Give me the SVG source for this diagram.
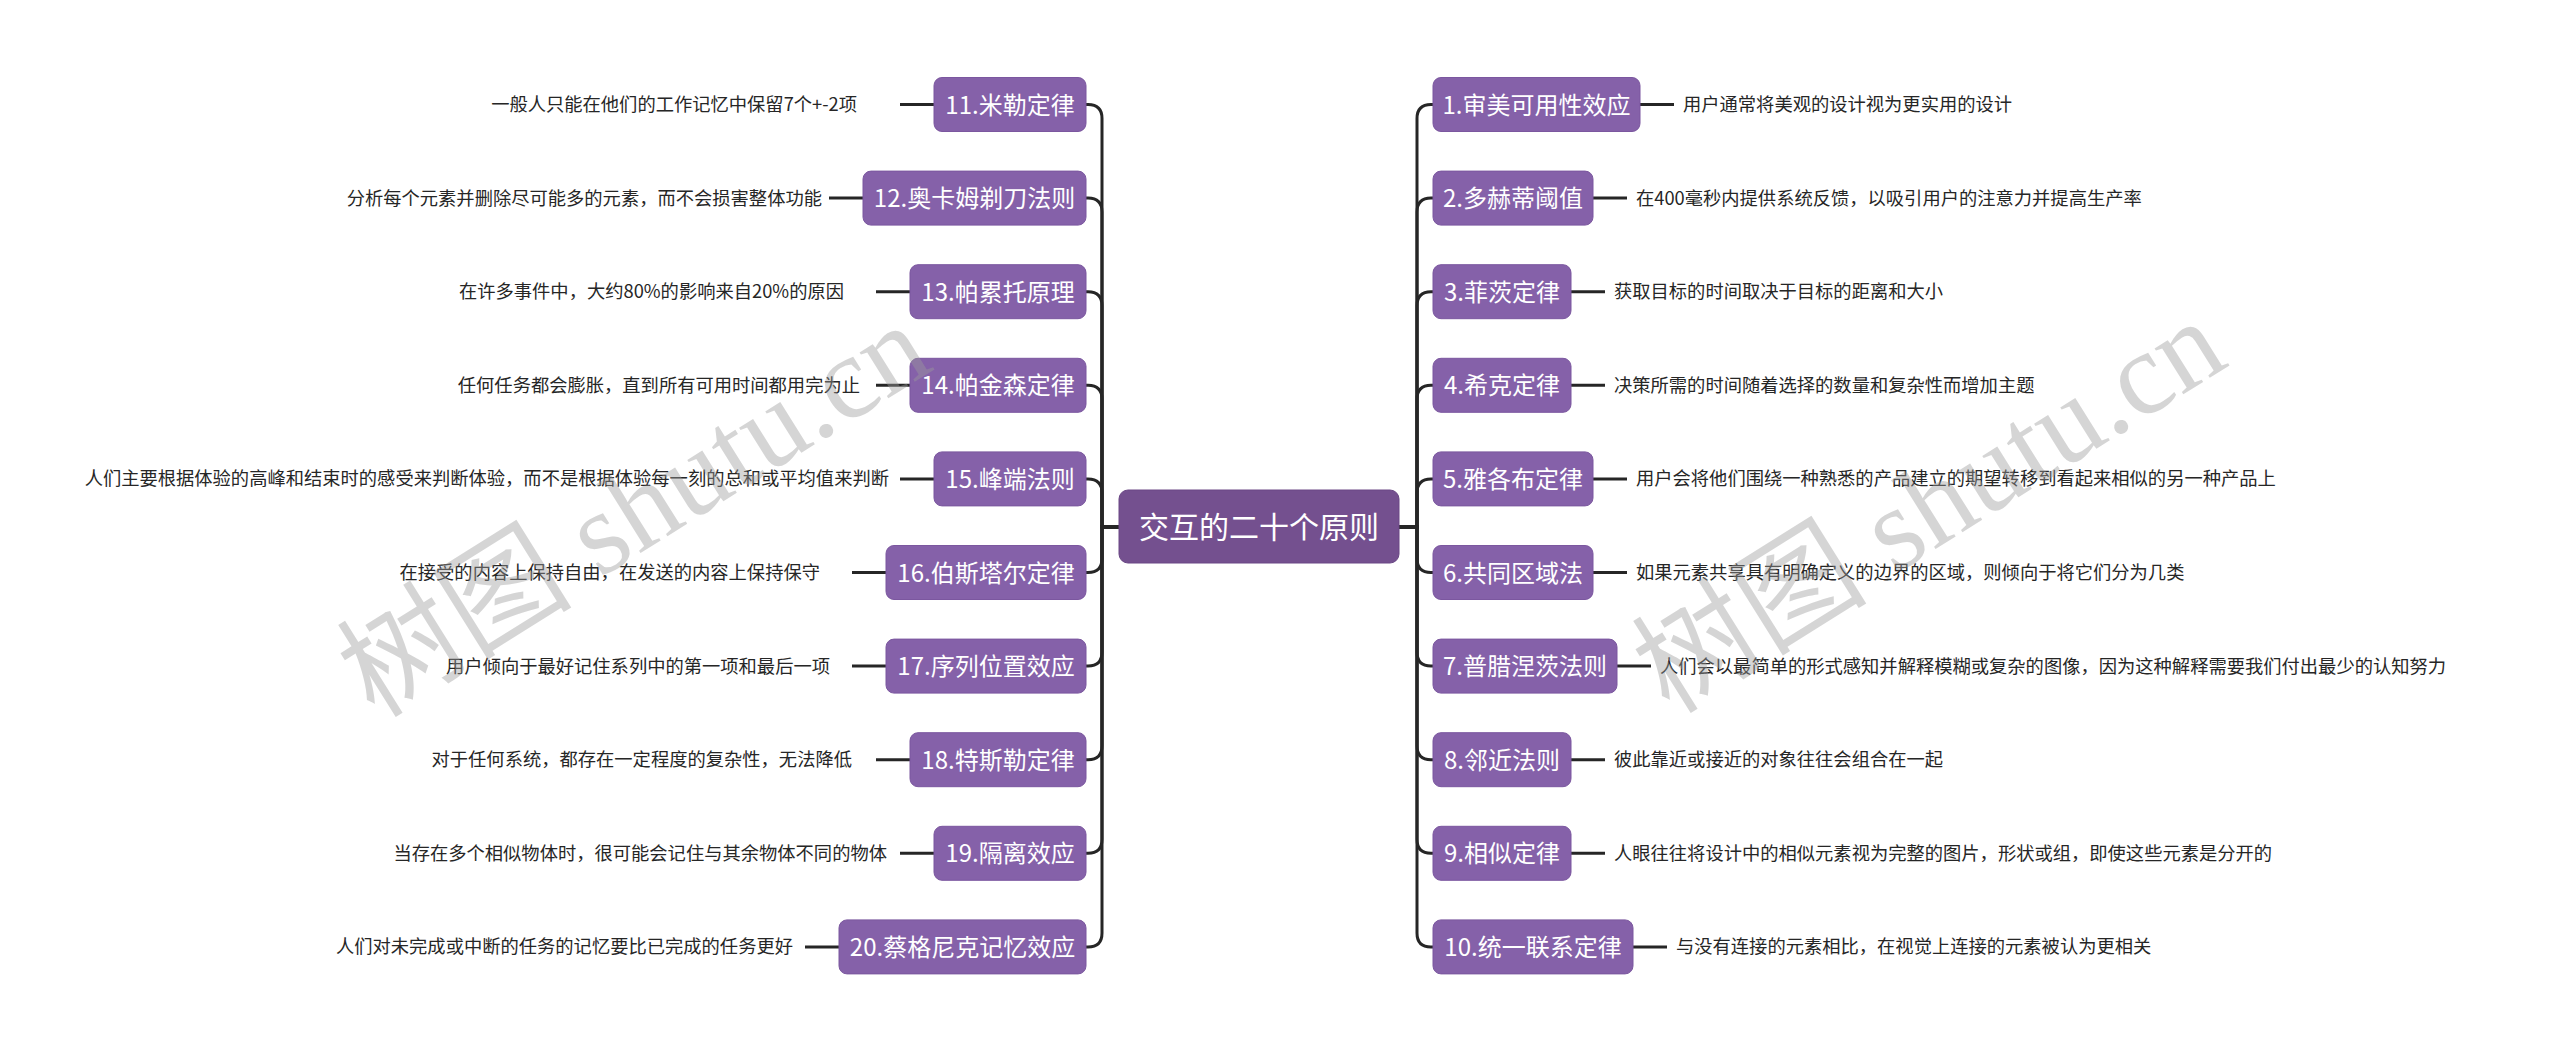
<svg xmlns="http://www.w3.org/2000/svg" width="2560" height="1055" viewBox="0 0 2560 1055">
<style>
.bg{fill:#ffffff}
.n rect{fill:#8561a9;stroke:#7b579f;stroke-width:1}
.root rect{fill:#74508f;stroke:#6a4785;stroke-width:1}
.n text,.root text{fill:#ffffff;font-family:"Noto Sans CJK SC",sans-serif;text-anchor:middle}
.n text{font-size:24px}
.root text{font-size:30px}
.leaf{fill:#262626;font-family:"Noto Sans CJK SC",sans-serif;font-size:18.3px}
.r{text-anchor:start}
.l{text-anchor:end}
#connectors path{fill:none;stroke:#262626;stroke-width:3;stroke-linecap:butt}
.wm{fill:#9a9a9a;fill-opacity:0.42;font-family:"Liberation Serif","Noto Sans CJK SC",serif;font-size:118px;text-anchor:middle}
</style>
<rect class="bg" x="0" y="0" width="2560" height="1055"/>
<g id="connectors">
<path d="M1399,527 H1417 V118.5 Q1417,104.5 1431,104.5 H1433"/>
<path d="M1399,527 H1417 V212.1 Q1417,198.1 1431,198.1 H1433"/>
<path d="M1399,527 H1417 V305.7 Q1417,291.7 1431,291.7 H1433"/>
<path d="M1399,527 H1417 V399.3 Q1417,385.3 1431,385.3 H1433"/>
<path d="M1399,527 H1417 V492.9 Q1417,478.9 1431,478.9 H1433"/>
<path d="M1399,527 H1417 V558.5 Q1417,572.5 1431,572.5 H1433"/>
<path d="M1399,527 H1417 V652.1 Q1417,666.1 1431,666.1 H1433"/>
<path d="M1399,527 H1417 V745.7 Q1417,759.7 1431,759.7 H1433"/>
<path d="M1399,527 H1417 V839.3 Q1417,853.3 1431,853.3 H1433"/>
<path d="M1399,527 H1417 V932.9 Q1417,946.9 1431,946.9 H1433"/>
<path d="M1119,527 H1102 V118.5 Q1102,104.5 1088,104.5 H1086"/>
<path d="M1119,527 H1102 V212.1 Q1102,198.1 1088,198.1 H1086"/>
<path d="M1119,527 H1102 V305.7 Q1102,291.7 1088,291.7 H1086"/>
<path d="M1119,527 H1102 V399.3 Q1102,385.3 1088,385.3 H1086"/>
<path d="M1119,527 H1102 V492.9 Q1102,478.9 1088,478.9 H1086"/>
<path d="M1119,527 H1102 V558.5 Q1102,572.5 1088,572.5 H1086"/>
<path d="M1119,527 H1102 V652.1 Q1102,666.1 1088,666.1 H1086"/>
<path d="M1119,527 H1102 V745.7 Q1102,759.7 1088,759.7 H1086"/>
<path d="M1119,527 H1102 V839.3 Q1102,853.3 1088,853.3 H1086"/>
<path d="M1119,527 H1102 V932.9 Q1102,946.9 1088,946.9 H1086"/>
<path d="M1640,104.5 H1674"/>
<path d="M1593,198.1 H1627"/>
<path d="M1571,291.7 H1605"/>
<path d="M1571,385.3 H1605"/>
<path d="M1593,478.9 H1627"/>
<path d="M1593,572.5 H1627"/>
<path d="M1617,666.1 H1651"/>
<path d="M1571,759.7 H1605"/>
<path d="M1571,853.3 H1605"/>
<path d="M1633,946.9 H1667"/>
<path d="M934,104.5 H900"/>
<path d="M863,198.1 H829"/>
<path d="M910,291.7 H876"/>
<path d="M910,385.3 H876"/>
<path d="M934,478.9 H900"/>
<path d="M886,572.5 H852"/>
<path d="M886,666.1 H852"/>
<path d="M910,759.7 H876"/>
<path d="M934,853.3 H900"/>
<path d="M839,946.9 H805"/>
</g>
<g id="root" class="root"><rect x="1119" y="490" width="280" height="73" rx="9"/><text x="1259" y="538">交互的二十个原则</text></g>
<g id="n1" class="n"><rect x="1433" y="77.5" width="207" height="54" rx="8"/><text x="1536.5" y="113.5">1.审美可用性效应</text></g>
<g id="n2" class="n"><rect x="1433" y="171.1" width="160" height="54" rx="8"/><text x="1513" y="207.1">2.多赫蒂阈值</text></g>
<g id="n3" class="n"><rect x="1433" y="264.7" width="138" height="54" rx="8"/><text x="1502" y="300.7">3.菲茨定律</text></g>
<g id="n4" class="n"><rect x="1433" y="358.3" width="138" height="54" rx="8"/><text x="1502" y="394.3">4.希克定律</text></g>
<g id="n5" class="n"><rect x="1433" y="451.9" width="160" height="54" rx="8"/><text x="1513" y="487.9">5.雅各布定律</text></g>
<g id="n6" class="n"><rect x="1433" y="545.5" width="160" height="54" rx="8"/><text x="1513" y="581.5">6.共同区域法</text></g>
<g id="n7" class="n"><rect x="1433" y="639.1" width="184" height="54" rx="8"/><text x="1525" y="675.1">7.普腊涅茨法则</text></g>
<g id="n8" class="n"><rect x="1433" y="732.7" width="138" height="54" rx="8"/><text x="1502" y="768.7">8.邻近法则</text></g>
<g id="n9" class="n"><rect x="1433" y="826.3" width="138" height="54" rx="8"/><text x="1502" y="862.3">9.相似定律</text></g>
<g id="n10" class="n"><rect x="1433" y="919.9" width="200" height="54" rx="8"/><text x="1533" y="955.9">10.统一联系定律</text></g>
<g id="n11" class="n"><rect x="934" y="77.5" width="152" height="54" rx="8"/><text x="1010" y="113.5">11.米勒定律</text></g>
<g id="n12" class="n"><rect x="863" y="171.1" width="223" height="54" rx="8"/><text x="974.5" y="207.1">12.奥卡姆剃刀法则</text></g>
<g id="n13" class="n"><rect x="910" y="264.7" width="176" height="54" rx="8"/><text x="998" y="300.7">13.帕累托原理</text></g>
<g id="n14" class="n"><rect x="910" y="358.3" width="176" height="54" rx="8"/><text x="998" y="394.3">14.帕金森定律</text></g>
<g id="n15" class="n"><rect x="934" y="451.9" width="152" height="54" rx="8"/><text x="1010" y="487.9">15.峰端法则</text></g>
<g id="n16" class="n"><rect x="886" y="545.5" width="200" height="54" rx="8"/><text x="986" y="581.5">16.伯斯塔尔定律</text></g>
<g id="n17" class="n"><rect x="886" y="639.1" width="200" height="54" rx="8"/><text x="986" y="675.1">17.序列位置效应</text></g>
<g id="n18" class="n"><rect x="910" y="732.7" width="176" height="54" rx="8"/><text x="998" y="768.7">18.特斯勒定律</text></g>
<g id="n19" class="n"><rect x="934" y="826.3" width="152" height="54" rx="8"/><text x="1010" y="862.3">19.隔离效应</text></g>
<g id="n20" class="n"><rect x="839" y="919.9" width="247" height="54" rx="8"/><text x="962.5" y="955.9">20.蔡格尼克记忆效应</text></g>
<g id="leaves">
<text class="leaf r" x="1683" y="111">用户通常将美观的设计视为更实用的设计</text>
<text class="leaf r" x="1636" y="204.6">在400毫秒内提供系统反馈，以吸引用户的注意力并提高生产率</text>
<text class="leaf r" x="1614" y="298.2">获取目标的时间取决于目标的距离和大小</text>
<text class="leaf r" x="1614" y="391.8">决策所需的时间随着选择的数量和复杂性而增加主题</text>
<text class="leaf r" x="1636" y="485.4">用户会将他们围绕一种熟悉的产品建立的期望转移到看起来相似的另一种产品上</text>
<text class="leaf r" x="1636" y="579">如果元素共享具有明确定义的边界的区域，则倾向于将它们分为几类</text>
<text class="leaf r" x="1660" y="672.6">人们会以最简单的形式感知并解释模糊或复杂的图像，因为这种解释需要我们付出最少的认知努力</text>
<text class="leaf r" x="1614" y="766.2">彼此靠近或接近的对象往往会组合在一起</text>
<text class="leaf r" x="1614" y="859.8">人眼往往将设计中的相似元素视为完整的图片，形状或组，即使这些元素是分开的</text>
<text class="leaf r" x="1676" y="953.4">与没有连接的元素相比，在视觉上连接的元素被认为更相关</text>
<text class="leaf l" x="857" y="111">一般人只能在他们的工作记忆中保留7个+-2项</text>
<text class="leaf l" x="822" y="204.6">分析每个元素并删除尽可能多的元素，而不会损害整体功能</text>
<text class="leaf l" x="844" y="298.2">在许多事件中，大约80%的影响来自20%的原因</text>
<text class="leaf l" x="860" y="391.8">任何任务都会膨胀，直到所有可用时间都用完为止</text>
<text class="leaf l" x="889" y="485.4">人们主要根据体验的高峰和结束时的感受来判断体验，而不是根据体验每一刻的总和或平均值来判断</text>
<text class="leaf l" x="820" y="579">在接受的内容上保持自由，在发送的内容上保持保守</text>
<text class="leaf l" x="830" y="672.6">用户倾向于最好记住系列中的第一项和最后一项</text>
<text class="leaf l" x="852" y="766.2">对于任何系统，都存在一定程度的复杂性，无法降低</text>
<text class="leaf l" x="887" y="859.8">当存在多个相似物体时，很可能会记住与其余物体不同的物体</text>
<text class="leaf l" x="793" y="953.4">人们对未完成或中断的任务的记忆要比已完成的任务更好</text>
</g>
<g id="watermark">
<text class="wm" x="634" y="550" transform="rotate(-32 634 510)">树图 shutu.cn</text>
<text class="wm" x="1929" y="546" transform="rotate(-32 1929 506)">树图 shutu.cn</text>
</g>
</svg>
